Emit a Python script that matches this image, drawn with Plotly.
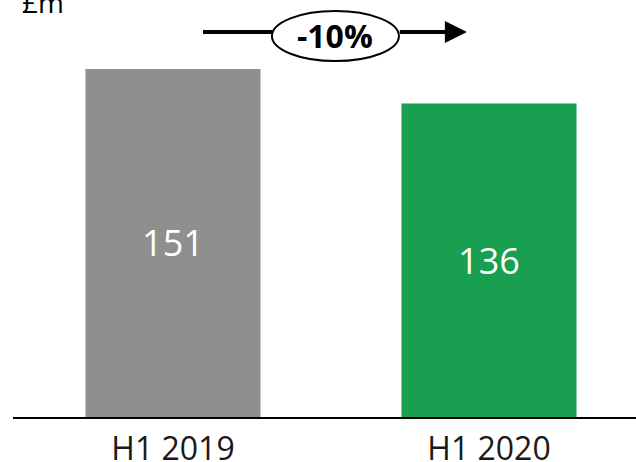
import plotly.graph_objects as go

categories = ["H1 2019", "H1 2020"]
values = [151, 136]
bar_colors = ["#8f8f8f", "#199f50"]
change_label = "-10%"
unit_label = "£m"

x_pos = [0, 1]

fig = go.Figure()
fig.add_trace(go.Bar(
    x=x_pos, y=values, width=0.554,
    marker=dict(color=bar_colors, line=dict(width=0)),
    text=[str(v) for v in values], textposition="inside",
    insidetextanchor="middle",
    textfont=dict(family="Open Sans", size=36, color="white"),
    hoverinfo="skip",
))

# arrow with ellipse
fig.add_shape(type="line", x0=0.095, x1=0.316, y0=167, y1=167,
              line=dict(color="black", width=4), xref="x", yref="y")
fig.add_shape(type="circle", x0=0.313, x1=0.715, y0=154.4, y1=176.1,
              line=dict(color="black", width=2), fillcolor="white",
              xref="x", yref="y")
fig.add_annotation(x=0.93, y=167, ax=0.713, ay=167, axref="x", ayref="y",
                   xref="x", yref="y", text="", showarrow=True,
                   arrowhead=2, arrowsize=1.1, arrowwidth=4, arrowcolor="black",
                   standoff=0, startstandoff=0)
fig.add_annotation(x=0.513, y=165.3, xref="x", yref="y", text="<b>" + change_label + "</b>",
                   showarrow=False, font=dict(family="Open Sans", size=32, color="black"))
fig.add_annotation(x=0.011, xanchor="left", y=1.0, yanchor="middle", yshift=-2,
                   xref="paper", yref="paper", text=unit_label, showarrow=False,
                   font=dict(family="Open Sans", size=28, color="black"))

fig.update_layout(
    width=636, height=462,
    margin=dict(l=13, r=0, t=0, b=45, autoexpand=False),
    paper_bgcolor="white", plot_bgcolor="white",
    showlegend=False,
    xaxis=dict(range=[-0.5063, 1.4652], tickvals=x_pos, ticktext=categories,
               showline=True, linecolor="black", linewidth=2, showgrid=False,
               zeroline=False, ticks="", automargin=False, ticklabelstandoff=3,
               tickfont=dict(family="Open Sans", size=32, color="#1a1a1a")),
    yaxis=dict(range=[0, 180.9], visible=False, showgrid=False, zeroline=False,
               automargin=False),
)

fig.write_html("out.html", config={"displayModeBar": False},
               post_script="document.body.style.margin='0';")
